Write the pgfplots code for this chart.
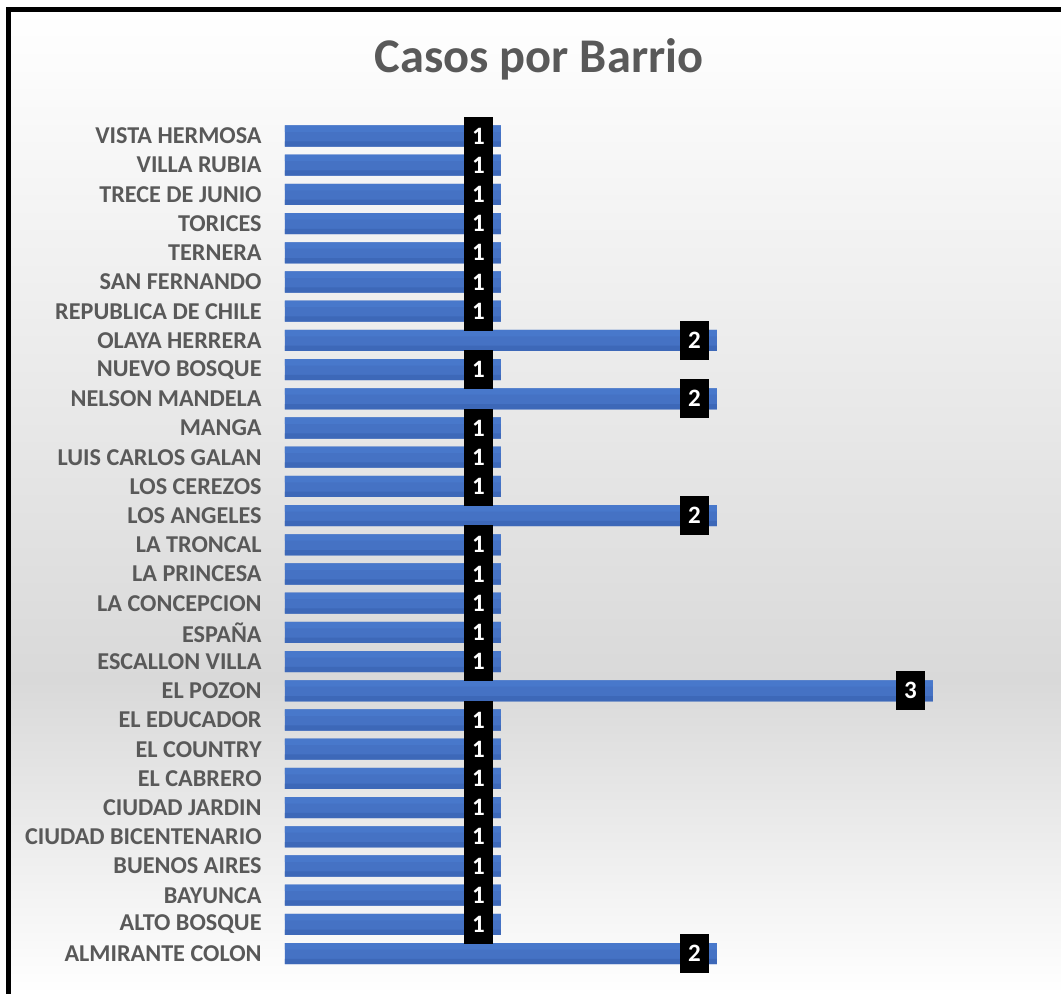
\documentclass[border=0pt]{standalone}
\usepackage{pgfplots}
\pgfplotsset{compat=1.18}
\usepackage{fontspec}
\setmainfont{Carlito}
\definecolor{txtgray}{HTML}{595959}
\definecolor{bgGray}{HTML}{D9D9D9}
\definecolor{barTop}{HTML}{4878CB}
\definecolor{barMid}{HTML}{4572C4}
\definecolor{barBot}{HTML}{3D68B8}
\pgfplotstableread{
v y
2 0
1 1
1 2
1 3
1 4
1 5
1 6
1 7
1 8
3 9
1 10
1 11
1 12
1 13
1 14
2 15
1 16
1 17
1 18
2 19
1 20
2 21
1 22
1 23
1 24
1 25
1 26
1 27
1 28
}\casos
\begin{document}
\begin{tikzpicture}
\useasboundingbox (0,0) rectangle (530.5pt,-497pt);
\shade[top color=white, bottom color=bgGray] (4.25pt,-4.75pt) rectangle (531pt,-340pt);
\shade[top color=bgGray, bottom color=white] (4.25pt,-340pt) rectangle (531pt,-497pt);
\draw[line width=2.5pt, line join=miter] (4.25pt,-498pt) -- (4.25pt,-4.75pt) -- (532pt,-4.75pt);
\node[anchor=base, font=\bfseries\fontsize{24.2}{27}\selectfont, text=txtgray, inner sep=0pt] at (269.5pt,-36.5pt) {Casos por Barrio};
\begin{axis}[
  at={(142.5pt,-484.1pt)}, anchor=south west,
  scale only axis, width=378pt, height=423.4pt,
  xmin=0, xmax=3.5, ymin=-0.5, ymax=28.5,
  axis line style={draw=none},
  xtick=\empty,
  ytick={0,...,28},
  yticklabels={ALMIRANTE COLON, ALTO BOSQUE\hspace{5pt}, BAYUNCA\hspace{3.5pt}, BUENOS AIRES, CIUDAD BICENTENARIO, CIUDAD JARDIN, EL CABRERO, EL COUNTRY, EL EDUCADOR, EL POZON, ESCALLON VILLA, ESPAÑA, LA CONCEPCION, LA PRINCESA, LA TRONCAL, LOS ANGELES, LOS CEREZOS, LUIS CARLOS GALAN, MANGA, NELSON MANDELA, NUEVO BOSQUE, OLAYA HERRERA, REPUBLICA DE CHILE, SAN FERNANDO, TERNERA, TORICES, TRECE DE JUNIO, VILLA RUBIA, VISTA HERMOSA},
  major tick length=0pt,
  y tick label style={font=\bfseries\fontsize{12.1}{13}\selectfont, text=txtgray, inner sep=0pt, xshift=-11.5pt},
  /pgf/number format/assume math mode=true,
  xbar,
  clip=false,
]
\addplot[draw=none, fill=barMid, bar width=0.72, bar shift=0] table[x=v, y=y] {\casos};
\addplot[draw=none, fill=barTop, bar width=0.22, bar shift=0.25] table[x=v, y=y] {\casos};
\addplot[draw=none, fill=barBot, bar width=0.18, bar shift=-0.27] table[x=v, y=y] {\casos};
\addplot[draw=none, fill=none, bar width=0.72, bar shift=0,
  nodes near coords,
  nodes near coords align={center},
  every node near coord/.append style={anchor=center, fill=black, text=white, font=\bfseries\fontsize{12.5}{13}\selectfont, xshift=-11.25pt, minimum width=14.5pt, minimum height=19.5pt, inner sep=0pt},
] table[x=v, y=y] {\casos};
\end{axis}
\end{tikzpicture}
\end{document}
